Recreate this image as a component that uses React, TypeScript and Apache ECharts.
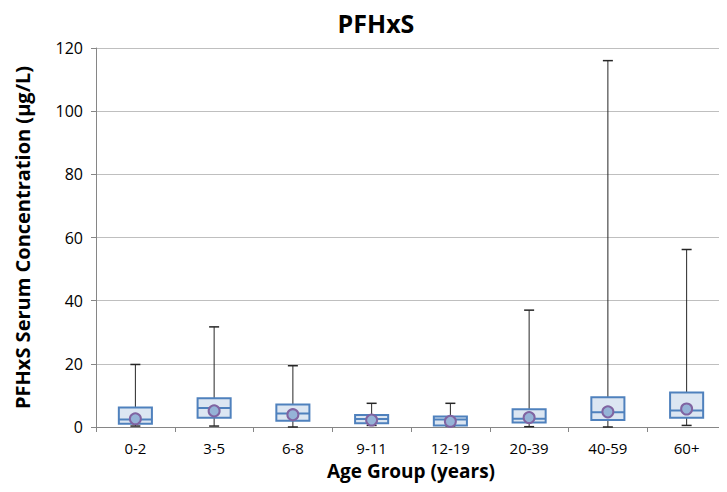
import React, { useEffect, useRef } from "react";
import * as echarts from "echarts";

const categories = ["0-2", "3-5", "6-8", "9-11", "12-19", "20-39", "40-59", "60+"];
const whiskerMin = [0.3, 0.3, 0.0, 0.5, 0.3, 0.1, 0.0, 0.5];
const q1 = [1.0, 2.9, 2.0, 1.2, 0.5, 1.4, 2.2, 2.9];
const median = [2.4, 6.0, 4.3, 2.5, 2.4, 2.6, 4.7, 5.2];
const q3 = [6.2, 9.1, 7.1, 3.8, 3.3, 5.6, 9.4, 10.9];
const whiskerMax = [19.8, 31.7, 19.4, 7.5, 7.5, 37.0, 116.0, 56.2];
const means = [2.6, 5.1, 3.9, 2.2, 1.8, 3.0, 4.8, 5.7];
const yTicks = [0, 20, 40, 60, 80, 100, 120];

const FONT = "'Open Sans', 'Noto Sans', sans-serif";

export default function App() {
  const ref = useRef<HTMLDivElement>(null);
  useEffect(() => {
    if (!ref.current) return;
    const chart = echarts.init(ref.current, null, { renderer: "svg" });
    const boxData = categories.map((_, i) => [i, whiskerMin[i], q1[i], median[i], q3[i], whiskerMax[i]]);
    chart.setOption({
      animation: false,
      backgroundColor: "#ffffff",
      title: {
        text: "PFHxS",
        left: 371,
        textAlign: "center",
        top: 5,
        textStyle: { fontFamily: FONT, fontWeight: "bold", fontSize: 25, color: "#000" },
      },
      grid: { left: 96, right: 1, top: 48, bottom: 65 },
      xAxis: {
        type: "category",
        data: categories,
        name: "Age Group (years)",
        nameLocation: "middle",
        nameGap: 34,
        nameTextStyle: { fontFamily: FONT, fontWeight: "bold", fontSize: 19, color: "#000" },
        axisLine: { lineStyle: { color: "#868686" } },
        axisTick: { show: true, alignWithLabel: false, length: 5, lineStyle: { color: "#868686" } },
        axisLabel: { fontFamily: FONT, fontSize: 15, color: "#000", margin: 13 },
      },
      yAxis: {
        type: "value",
        min: yTicks[0],
        max: yTicks[yTicks.length - 1],
        interval: 20,
        name: "PFHxS Serum Concentration (\u00b5g/L)",
        nameLocation: "middle",
        nameGap: 64,
        nameTextStyle: { fontFamily: FONT, fontWeight: "bold", fontSize: 20, color: "#000" },
        axisLine: { show: true, lineStyle: { color: "#868686" } },
        axisTick: { show: true, length: 5, lineStyle: { color: "#868686" } },
        axisLabel: { fontFamily: FONT, fontSize: 16, color: "#000", margin: 13 },
        splitLine: { lineStyle: { color: "#bfbfbf", width: 1 } },
      },
      series: [
        {
          type: "custom",
          data: boxData,
          encode: { x: 0, y: [1, 2, 3, 4, 5] },
          renderItem: (params: any, api: any) => {
            const idx = api.value(0);
            const pMin = api.coord([idx, api.value(1)]);
            const pQ1 = api.coord([idx, api.value(2)]);
            const pMed = api.coord([idx, api.value(3)]);
            const pQ3 = api.coord([idx, api.value(4)]);
            const pMax = api.coord([idx, api.value(5)]);
            const bw = api.size([1, 0])[0] * 0.42;
            const cx = pMin[0];
            const cap = 10;
            const wStyle = { stroke: "#262626", lineWidth: 1 };
            return {
              type: "group",
              children: [
                { type: "line", shape: { x1: cx, y1: pMin[1], x2: cx, y2: pMax[1] }, style: wStyle },
                { type: "line", shape: { x1: cx - cap / 2, y1: pMax[1], x2: cx + cap / 2, y2: pMax[1] }, style: { stroke: "#262626", lineWidth: 1.5 } },
                { type: "line", shape: { x1: cx - cap / 2, y1: pMin[1], x2: cx + cap / 2, y2: pMin[1] }, style: { stroke: "#262626", lineWidth: 1.5 } },
                {
                  type: "rect",
                  shape: { x: cx - bw / 2, y: pQ3[1], width: bw, height: pQ1[1] - pQ3[1] },
                  style: { fill: "#dce6f2", stroke: "#4f81bd", lineWidth: 2 },
                },
                { type: "line", shape: { x1: cx - bw / 2, y1: pMed[1], x2: cx + bw / 2, y2: pMed[1] }, style: { stroke: "#4f81bd", lineWidth: 2 } },
              ],
            };
          },
          z: 2,
        },
        {
          type: "scatter",
          data: categories.map((c, i) => [i, means[i]]),
          symbol: "circle",
          symbolSize: 11,
          itemStyle: { color: "#95b3d7", borderColor: "#8064a2", borderWidth: 2, opacity: 1 },
          z: 3,
        },
      ],
    });
    return () => chart.dispose();
  }, []);
  return <div ref={ref} style={{ width: 727, height: 492, margin: -8 }} />;
}
